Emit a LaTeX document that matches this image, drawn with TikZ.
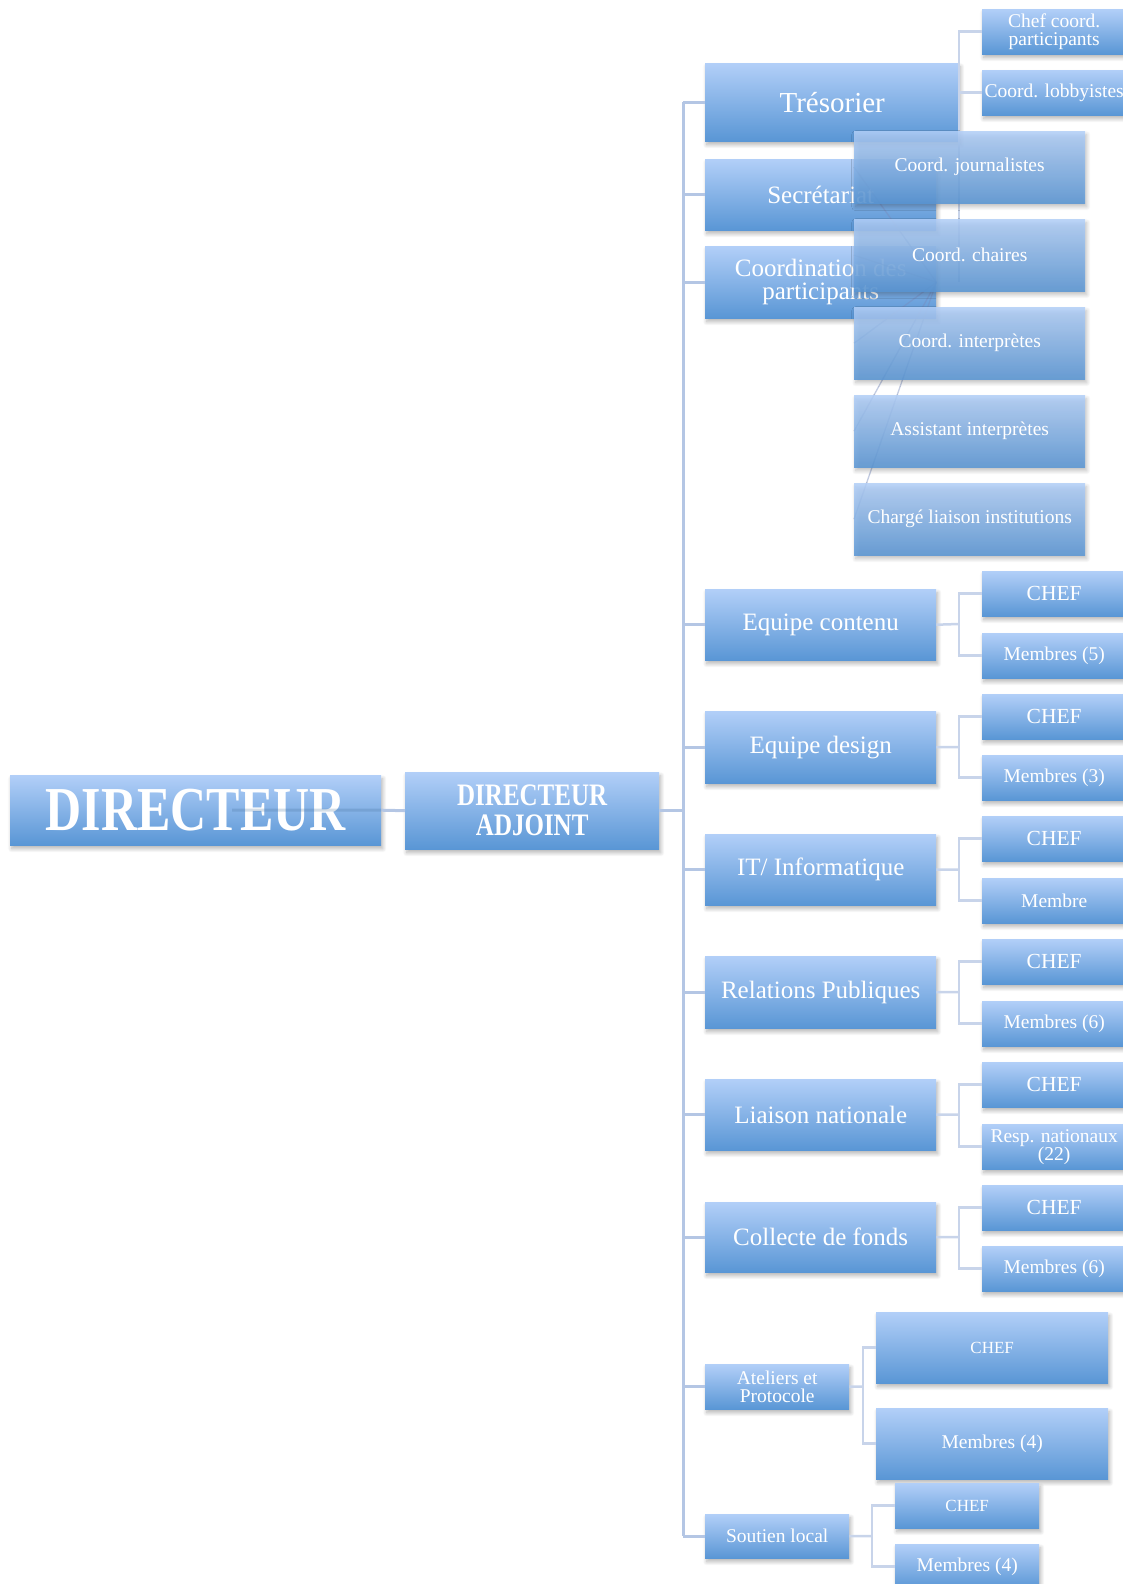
\documentclass[tikz,border=0pt]{standalone}
\usepackage{fontspec}
\usepackage{graphicx}
\setmainfont{Liberation Serif}
\usetikzlibrary{shadows,shadows.blur}
\definecolor{boxtop}{RGB}{178,207,248}
\definecolor{boxbot}{RGB}{89,150,213}
\definecolor{lineblue}{RGB}{180,198,228}
\definecolor{lineblueb}{RGB}{200,212,234}
\definecolor{diagblue}{RGB}{120,140,190}
\newcommand\setfs[2]{\fontsize{#1}{#2}\selectfont}
\pgfdeclarelayer{top}
\pgfsetlayers{main,top}
\tikzset{
  box/.style={draw=none, top color=boxtop, bottom color=boxbot, text=white,
    align=center, inner sep=0pt, anchor=north west,
    blur shadow={shadow xshift=1.5pt, shadow yshift=-3.5pt, shadow blur radius=4pt,
      shadow blur steps=8, shadow opacity=30, shadow blur extra rounding=0pt}},
  overbox/.style={box, fill opacity=0.86, text opacity=1},
  lvone/.style={box, minimum width=231pt, minimum height=71pt, font=\setfs{25}{23}},
  rbox/.style={box, minimum width=144pt, minimum height=45pt, font=\setfs{19.5}{18}},
  cbox/.style={overbox, minimum width=231pt, minimum height=72pt, font=\setfs{19.5}{18}},
  chefstyle/.style={rbox, font=\setfs{21.5}{20}},
  conn/.style={draw=lineblue, line width=3pt},
  subconn/.style={draw=lineblueb, line width=2.5pt},
  diag/.style={draw=diagblue, line width=1.3pt, opacity=0.45},
}
\begin{document}
\begin{tikzpicture}[x=1pt,y=-1pt]
\useasboundingbox (0,0) rectangle (1123,1584);
% ---------- coordinates for connector junctions
\coordinate (ttop) at (683,102);
\coordinate (tbot) at (683,1536);
\coordinate (dirL) at (232,810);
\coordinate (jtres) at (959,282);
\coordinate (jcont) at (959,624);
\coordinate (jdes) at (959,747);
\coordinate (jit) at (959,869.5);
\coordinate (jrp) at (959,992);
\coordinate (jlia) at (959,1114.5);
\coordinate (jcol) at (959,1237);
\coordinate (jat) at (863,1386.5);
\coordinate (jso) at (872,1536);

% ---------- nodes (main)
\node[box, minimum width=371pt, minimum height=70pt, font=\bfseries\setfs{50}{50}] (dir) at (10,775) {\scalebox{1}[1.25]{DIRECTEUR}};
\node[box, minimum width=254pt, minimum height=77pt, font=\bfseries\setfs{25}{30}] (adj) at (405,772) {\scalebox{1}[1.25]{DIRECTEUR}\\\scalebox{1}[1.25]{ADJOINT}};

% connectors first (behind boxes)
\draw[conn] (ttop) -- (tbot);
\draw[conn] (dir.east) -- (adj.west);
\draw[conn] (adj.east) -- (adj.east -| ttop);

\node[box, minimum width=254pt, minimum height=78pt, font=\setfs{29}{27}] (tres) at (705,63) {Trésorier};
\node[lvone] (secr) at (705,159) {Secrétariat};
\node[lvone, minimum height=72pt] (coord) at (705,246) {Coordination des\\participants};
\node[lvone] (cont) at (705,589) {Equipe contenu};
\node[lvone, minimum height=72pt] (des) at (705,711) {Equipe design};
\node[lvone] (it) at (705,834) {IT/ Informatique};
\node[lvone, minimum height=72pt] (rp) at (705,956) {Relations Publiques};
\node[lvone] (lia) at (705,1079) {Liaison nationale};
\node[lvone, minimum height=70pt] (col) at (705,1202) {Collecte de fonds};
\node[box, minimum width=144pt, minimum height=45pt, font=\setfs{19.5}{18.5}] (atel) at (705,1364) {Ateliers et\\Protocole};
\node[box, minimum width=144pt, minimum height=44pt, font=\setfs{19.5}{18.5}] (sout) at (705,1514) {Soutien local};

% trunk stubs
\foreach \n in {tres,secr,coord,cont,des,it,rp,lia,col,atel,sout}
  \draw[conn] (\n.west) -- (\n.west -| ttop);
\draw[conn, opacity=0.22, draw=boxbot!70!black] (dirL) -- (dir.east);

% Trésorier children
\node[rbox] (tchef) at (982,9) {Chef coord.\\participants};
\node[rbox] (tlob) at (982,70) {Coord. lobbyistes};
\draw[subconn] (tchef.west) -| (jtres);
\draw[subconn] (tlob.west) -- (tlob.west -| jtres);

% team groups
\node[chefstyle] (contchef) at (982,571) {CHEF};
\node[rbox] (contmem) at (982,633) {Membres (5)};
\node[chefstyle] (deschef) at (982,694) {CHEF};
\node[rbox] (desmem) at (982,755) {Membres (3)};
\node[chefstyle] (itchef) at (982,816) {CHEF};
\node[rbox] (itmem) at (982,878) {Membre};
\node[chefstyle] (rpchef) at (982,939) {CHEF};
\node[rbox] (rpmem) at (982,1001) {Membres (6)};
\node[chefstyle] (liachef) at (982,1062) {CHEF};
\node[rbox] (liamem) at (982,1124) {Resp. nationaux\\(22)};
\node[chefstyle] (colchef) at (982,1185) {CHEF};
\node[rbox] (colmem) at (982,1246) {Membres (6)};

\foreach \g/\j in {cont/jcont,des/jdes,it/jit,rp/jrp,lia/jlia,col/jcol}{
  \draw[subconn] (\g.east) -- (\j);
  \draw[subconn] (\j) |- (\g chef.west);
  \draw[subconn] (\j) |- (\g mem.west);
}

% Ateliers
\node[box, minimum width=232pt, minimum height=71pt, font=\setfs{17}{17}] (atchef) at (876,1312) {CHEF};
\node[box, minimum width=232pt, minimum height=71pt, font=\setfs{19.5}{18}] (atmem) at (876,1408) {Membres (4)};
\draw[subconn] (atel.east) -- (jat);
\draw[subconn] (jat) |- (atchef.west);
\draw[subconn] (jat) |- (atmem.west);

% Soutien local
\node[box, minimum width=144pt, minimum height=45pt, font=\setfs{17}{17}] (sochef) at (895,1483) {CHEF};
\node[box, minimum width=144pt, minimum height=45pt, font=\setfs{19.5}{18}] (somem) at (895,1544) {Membres (4)};
\draw[subconn] (sout.east) -- (jso);
\draw[subconn] (jso) |- (sochef.west);
\draw[subconn] (jso) |- (somem.west);

% Coordination children (overlapping, semi-transparent, on top layer)
\begin{pgfonlayer}{top}
\node[cbox] (jour) at (854,131) {Coord. journalistes};
\node[cbox] (chai) at (854,219) {Coord. chaires};
\node[cbox] (inter) at (854,307) {Coord. interprètes};
\node[cbox] (assi) at (854,395) {Assistant interprètes};
\node[cbox] (charg) at (854,483) {Chargé liaison institutions};
\end{pgfonlayer}
\foreach \c in {jour,chai,inter,assi,charg}
  \draw[diag] (coord.east) -- (\c.west);
\end{tikzpicture}
\end{document}
